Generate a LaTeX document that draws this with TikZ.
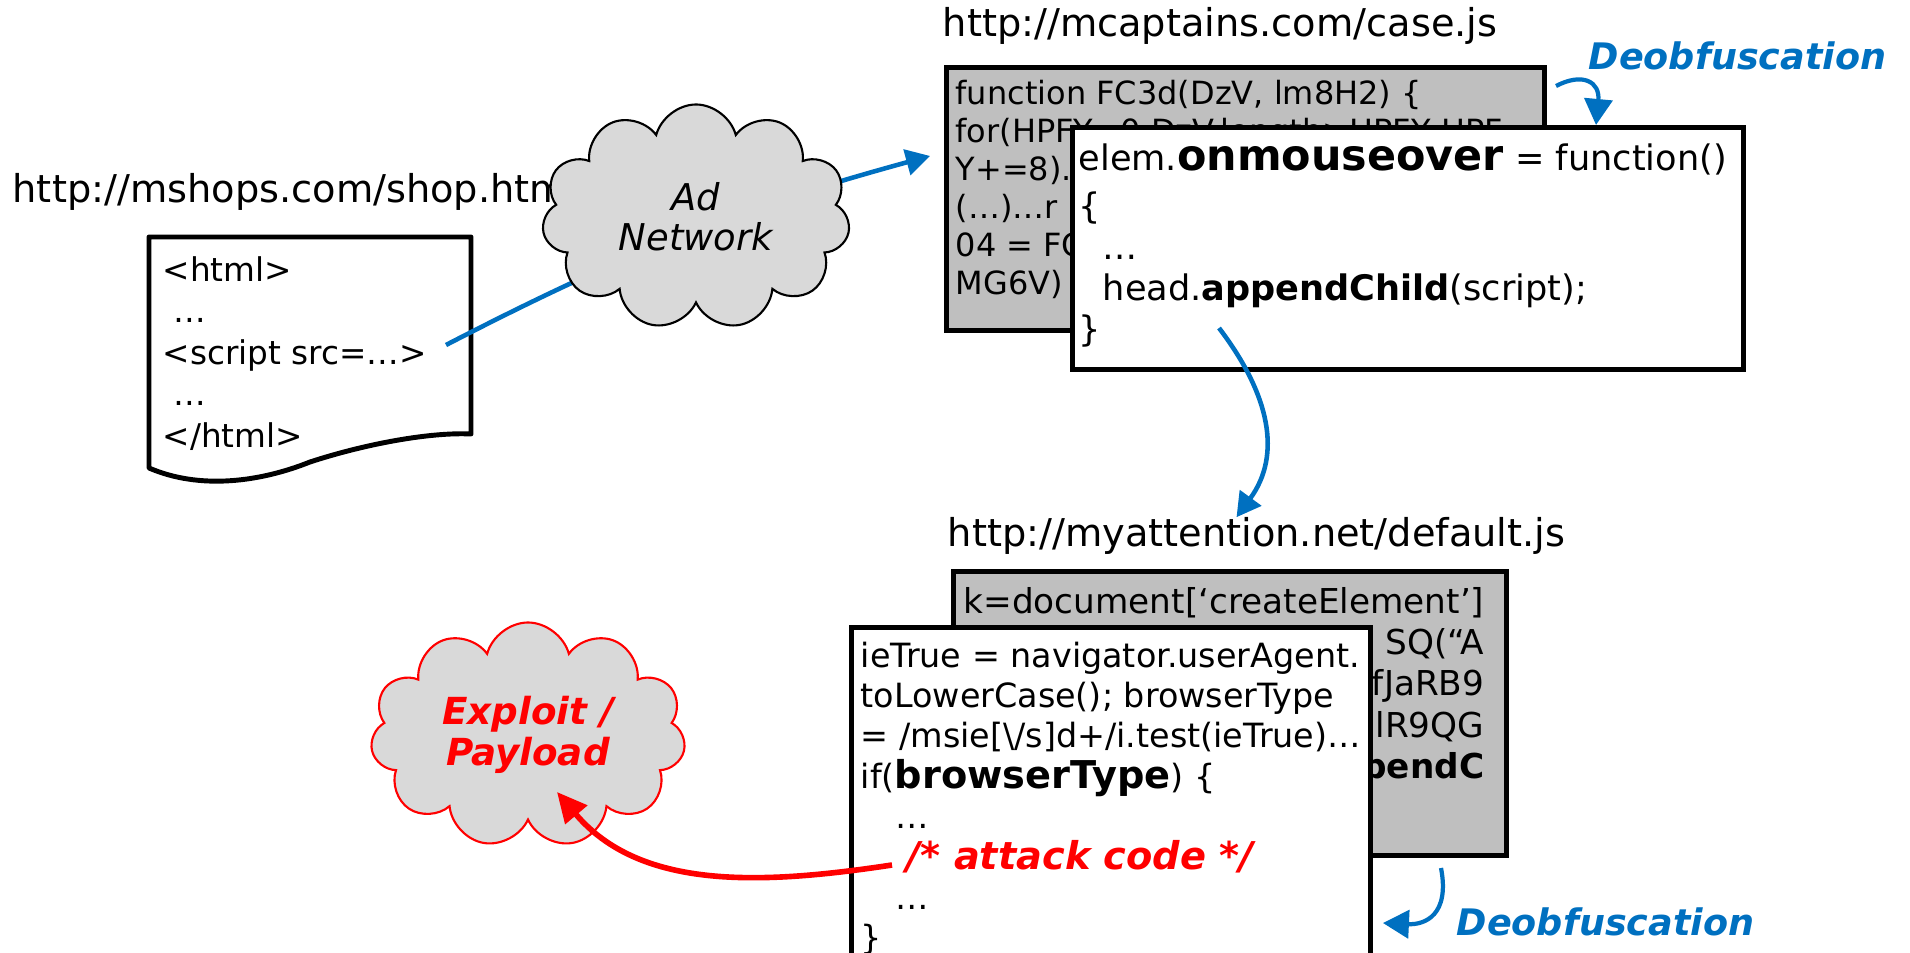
\documentclass[tikz,border=0pt]{standalone}
\usepackage{fontspec}
\setmainfont{DejaVu Sans}
\usetikzlibrary{positioning, shapes.symbols, arrows.meta}

\definecolor{linkblue}{RGB}{0,112,192}
\definecolor{obfgray}{RGB}{191,191,191}
\definecolor{cloudgray}{RGB}{217,217,217}
\definecolor{attackred}{RGB}{255,0,0}
\newcommand{\setfs}[2]{\fontsize{#1pt}{#2pt}\selectfont}

\begin{document}
\begin{tikzpicture}[x=0.1mm, y=-0.1mm,
  urltext/.style={anchor=base west, inner sep=0pt, font=\setfs{10.9}{12.6}},
  jsbox/.style={rectangle, draw, line width=1.4pt, anchor=north west, inner sep=0pt},
  obfbox/.style={jsbox, fill=obfgray},
  plainbox/.style={jsbox, fill=white},
  jscode/.style={anchor=north west, inner sep=0pt, align=left},
  netcloud/.style={cloud, cloud puffs=11, cloud ignores aspect, fill=cloudgray, line width=0.6pt, inner sep=0pt, align=center},
  link/.style={draw=linkblue, line width=1.3pt, -{Triangle[length=2.4mm, width=2.6mm]}},
  deob/.style={draw=linkblue, line width=1.2pt, -{Triangle[length=2.6mm, width=2.8mm]}},
  deoblabel/.style={anchor=base west, inner sep=0pt, text=linkblue, font=\setfs{10.4}{12}\bfseries\itshape},
  attack/.style={draw=attackred, line width=1.6pt, -{Triangle[length=3mm, width=2.8mm]}}]

  \useasboundingbox (0,0) rectangle (1910,953);
  \clip (0,0) rectangle (1910,953);

  % landing page
  \node[urltext] (shopurl) at (12,203) {http://mshops.com/shop.html};
  \draw[line width=1.4pt, line join=round] (149,468) -- (149,237) -- (471,237) -- (471,434)
    .. controls (430,432) and (365,444) .. (310,462)
    .. controls (260,482) and (200,490) .. cycle;
  \node[jscode, font=\setfs{9.3}{11.8}] (shopcode) at (162,256)
    {<html>\\\hspace*{1.1mm}…\\<script src=…>\\\hspace*{1.1mm}…\\</html>};
  \coordinate (scriptend) at (446,345);

  % obfuscated script
  \node[urltext] (caseurl) at (942,37) {http://mcaptains.com/case.js};
  \node[obfbox, minimum width=59.8mm, minimum height=26.3mm] (caseobf) at (944,65) {};
  \node[jscode, font=\setfs{9.1}{10.8}, below right=1.5mm and 1.1mm of caseobf.north west] (caseobfcode)
    {function FC3d(DzV, lm8H2) \{\\for(HPFY=0;DzV.length>HPFY;HPF\\Y+=8).\\(…)…r\\04 = FC\\MG6V)};

  % ad network
  \draw[link] (scriptend) to[bend left=6] ([xshift=-1.4mm, yshift=4.3mm]caseobf.west);
  \node[netcloud, draw, minimum width=30.8mm, minimum height=22.5mm, font=\setfs{10.5}{11.4}\itshape] (adnet) at (696,217) {Ad\\Network};

  % deobfuscated script
  \node[plainbox, minimum width=67.1mm, minimum height=24.2mm] (caseplain) at (1070,125) {};
  \node[jscode, font=\setfs{10}{11.7}, below right=1.8mm and 0.8mm of caseplain.north west] (caseplaincode)
    {elem.{\setfs{12.2}{12}\bfseries onmouseover} = function()\\[2pt]\{\\\hspace*{2.4mm}…\\\hspace*{2.4mm}head.\textbf{appendChild}(script);\\\}};
  \node[deoblabel] (deobtop) at (1588,70) {Deobfuscation};
  \coordinate (deobtopstart) at (1556,86);
  \draw[deob] (deobtopstart) .. controls (1583,72) and (1600,82) .. ([xshift=52.6mm]caseplain.north west);

  % injected script
  \node[urltext] (atturl) at (947,547) {http://myattention.net/default.js};
  \coordinate (appendpt) at (1219,328);
  \draw[link] (appendpt) .. controls (1270,395) and (1282,455) .. ([xshift=-2mm]atturl.north);

  \node[obfbox, minimum width=55.3mm, minimum height=28.4mm] (attobf) at (951,569) {};
  \node[jscode, align=right, font=\setfs{9.75}{11.7}, below left=1.8mm and 2.4mm of attobf.north east] (attobfcode)
    {k=document[‘createElement’]\\SQ(“A\\fJaRB9\\lR9QG\\\textbf{pendC}};
  \node[plainbox, minimum width=51.9mm, minimum height=36mm] (attplain) at (849,625) {};
  \node[jscode, font=\setfs{9.5}{11.5}, below right=1.6mm and 1.1mm of attplain.north west] (attplaincode)
    {ieTrue = navigator.userAgent.\\toLowerCase(); browserType\\= /msie[\textbackslash/s]d+/i.test(ieTrue)…\\if({\setfs{10.9}{11.5}\bfseries browserType}) \{\\\hspace*{3.5mm}…\\\hspace*{4.6mm}{\setfs{10.9}{11.5}\bfseries\itshape\color{attackred}/* attack code */}\\\hspace*{3.5mm}…\\\}};
  \node[deoblabel] (deobbot) at (1456,935) {Deobfuscation};
  \coordinate (deobbotstart) at (1441,868);
  \draw[deob] (deobbotstart) .. controls (1450,915) and (1425,925) .. ([xshift=1mm, yshift=-29.8mm]attplain.north east);

  % payload
  \node[netcloud, draw=attackred, minimum width=31.5mm, minimum height=22.5mm, text=attackred, font=\setfs{10.6}{11.7}\bfseries\itshape] (payload) at (528,735) {Exploit /\\Payload};
  \coordinate (attackpt) at (892,865);
  \draw[attack] (attackpt) .. controls (760,885) and (640,890) .. ([xshift=2.9mm, yshift=-5.7mm]payload.center);
\end{tikzpicture}
\end{document}
